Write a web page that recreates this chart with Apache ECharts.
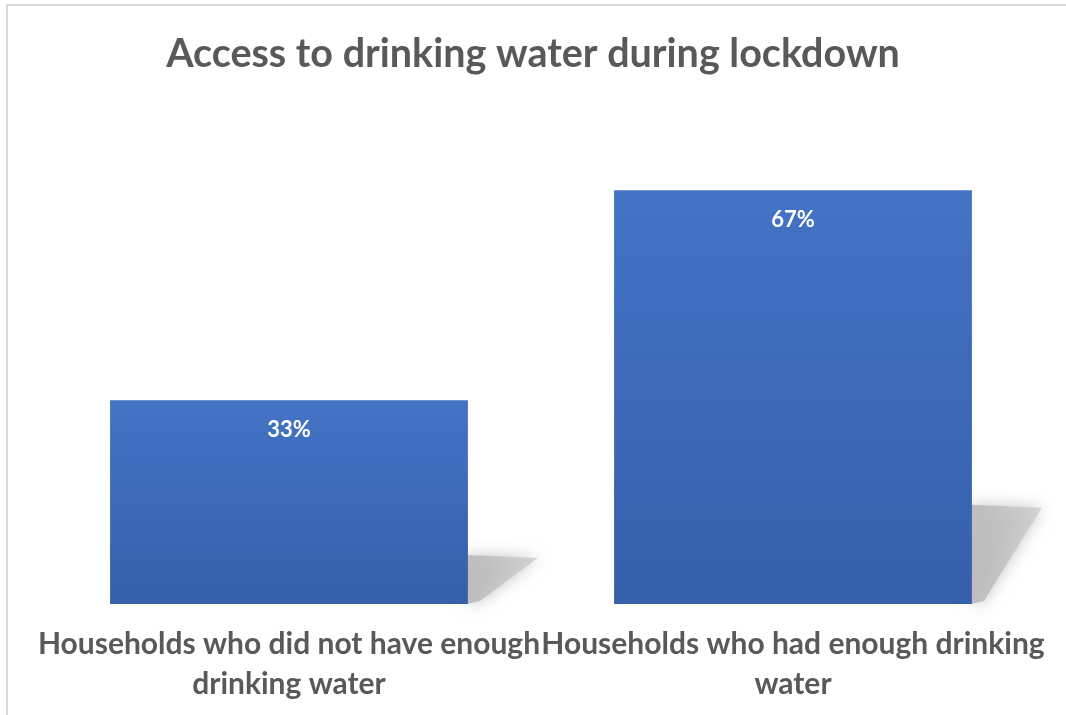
<!DOCTYPE html>
<html>
<head>
<meta charset="utf-8">
<script src="https://cdn.jsdelivr.net/npm/echarts@6/dist/echarts.min.js"></script>
<style>
html,body{margin:0;padding:0;background:#fff;}
#chart{width:1066px;height:715px;}
</style>
</head>
<body>
<div id="chart"></div>
<script>
const titleText = 'Access to drinking water during lockdown';
const categories = ['Households who did not have enough\ndrinking water', 'Households who had enough drinking\nwater'];
const values = [33, 67];
const valueLabels = ['33%', '67%'];

const FONT = 'Lato, "Open Sans", sans-serif';
const BAR_FRACTION = 0.71;

const chart = echarts.init(document.getElementById('chart'));
chart.setOption({
  backgroundColor: '#fff',
  animation: false,
  graphic: [{
    type: 'rect',
    shape: {x: 7, y: 5, width: 1100, height: 800},
    style: {fill: 'none', stroke: '#d9d9d9', lineWidth: 2},
    z: -10
  }],
  title: {
    text: titleText,
    left: 'center',
    top: 29,
    textStyle: {fontFamily: FONT, fontSize: 39.5, fontWeight: 'bold', color: '#595959'}
  },
  grid: {left: 37, right: 21, top: 110, bottom: 111},
  xAxis: {
    type: 'category',
    data: categories,
    axisLine: {show: false},
    axisTick: {show: false},
    axisLabel: {
      interval: 0,
      margin: 20,
      fontFamily: FONT,
      fontSize: 30,
      fontWeight: 'bold',
      color: '#595959',
      lineHeight: 40
    }
  },
  yAxis: {
    type: 'value',
    min: 0,
    max: 80,
    show: false,
    splitLine: {show: false}
  },
  series: [
    {
      type: 'custom',
      z: 1,
      silent: true,
      renderItem: function (params, api) {
        const idx = api.value(0);
        const v = api.value(1);
        const top = api.coord([idx, v]);
        const base = api.coord([idx, 0]);
        const cw = api.size([1, 0])[0];
        const right = top[0] + cw * BAR_FRACTION / 2;
        const h = (base[1] - top[1]) * 0.24;
        return {
          type: 'polygon',
          shape: {points: [
            [right, base[1] - h],
            [right + 70, base[1] - h + 3],
            [right + 12, base[1] - 3],
            [right, base[1]]
          ]},
          style: {
            fill: new echarts.graphic.LinearGradient(0, 0, 1, 0, [
              {offset: 0, color: 'rgba(185,185,185,0.9)'},
              {offset: 1, color: 'rgba(205,205,205,0.8)'}
            ]),
            shadowBlur: 16, shadowColor: 'rgba(180,180,180,0.9)'
          }
        };
      },
      data: values.map((v, i) => [i, v])
    },
    {
      type: 'bar',
      z: 2,
      data: values,
      barWidth: (BAR_FRACTION * 100) + '%',
      itemStyle: {
        color: new echarts.graphic.LinearGradient(0, 0, 0, 1, [
          {offset: 0, color: '#4473C5'},
          {offset: 1, color: '#365FAA'}
        ])
      },
      label: {
        show: true,
        position: 'insideTop',
        distance: 19,
        formatter: p => valueLabels[p.dataIndex],
        fontFamily: FONT,
        fontSize: 22,
        fontWeight: 'bold',
        color: '#ffffff'
      }
    }
  ]
});
</script>
</body>
</html>
